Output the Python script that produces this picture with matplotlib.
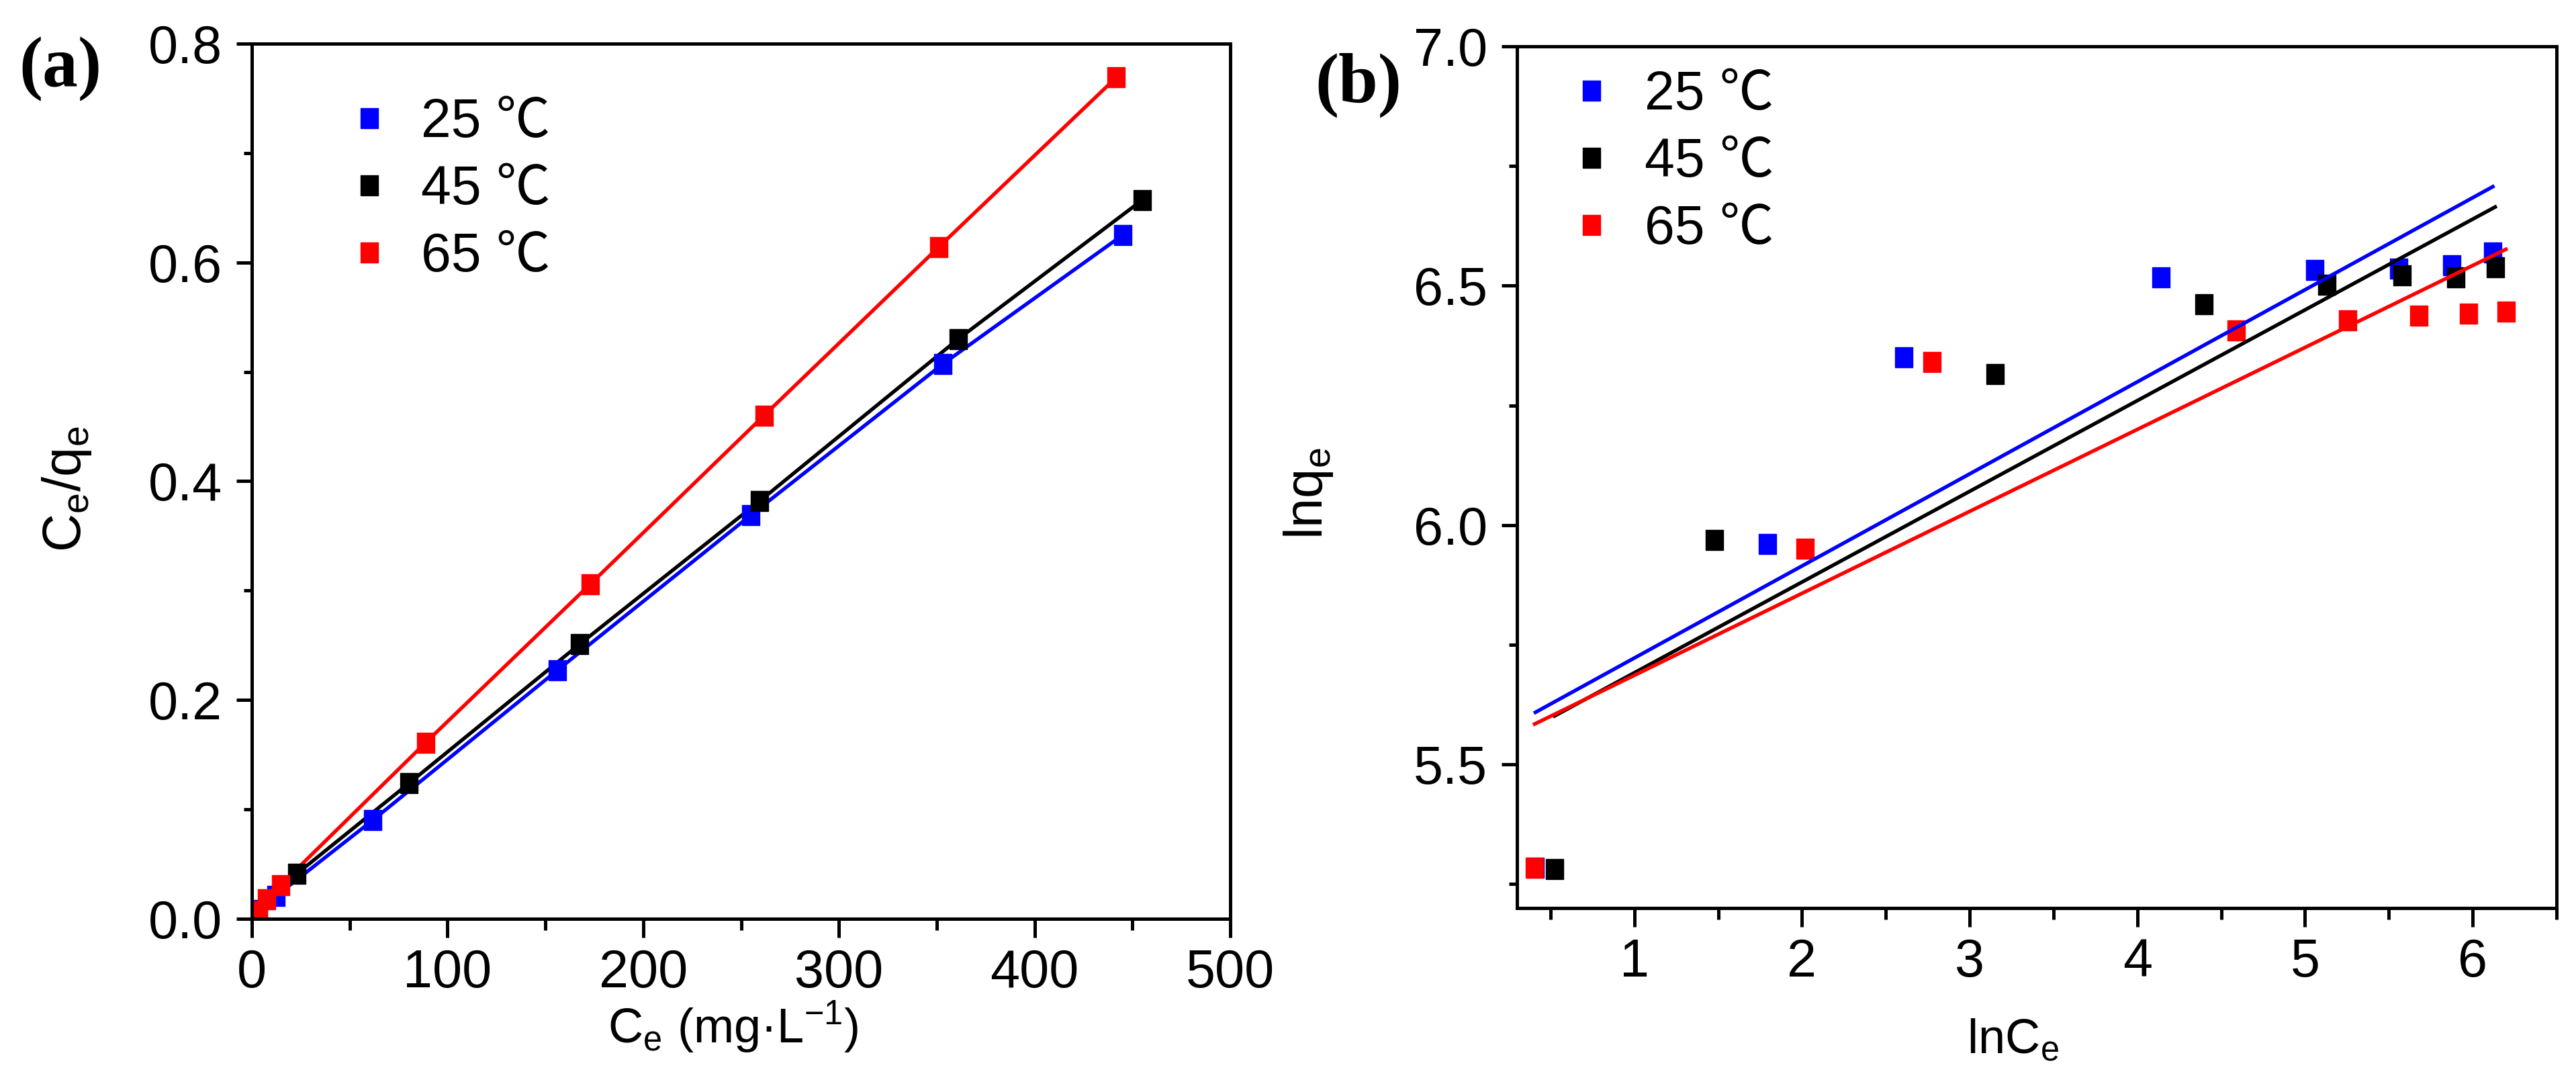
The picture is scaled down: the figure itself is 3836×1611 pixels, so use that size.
import numpy as np
import matplotlib.pyplot as plt
from matplotlib.ticker import MultipleLocator

plt.rcParams['font.family'] = ['Liberation Sans', 'Noto Sans CJK SC', 'DejaVu Sans']

# ---- panel (a): Langmuir, Ce vs Ce/qe ----
ce_25 = [3.3, 12.5, 61.7, 156, 255, 353, 445]
cq_25 = [0.008, 0.021, 0.090, 0.227, 0.369, 0.507, 0.625]
ce_45 = [3.0, 22.9, 80.4, 167.5, 259.6, 361, 455]
cq_45 = [0.006, 0.041, 0.124, 0.251, 0.382, 0.530, 0.657]
ce_65 = [3.4, 7.5, 14.8, 88.8, 173, 261.7, 351, 441.7]
cq_65 = [0.007, 0.018, 0.031, 0.161, 0.306, 0.460, 0.614, 0.769]

# ---- panel (b): Freundlich, lnCe vs lnqe ----
lnce_25 = [0.41, 1.794, 2.607, 4.14, 5.057, 5.56, 5.876, 6.12]
lnqe_25 = [5.284, 5.961, 6.351, 6.518, 6.533, 6.535, 6.543, 6.569]
lnce_45 = [0.524, 1.476, 3.153, 4.398, 5.132, 5.578, 5.90, 6.134]
lnqe_45 = [5.281, 5.969, 6.316, 6.461, 6.502, 6.521, 6.518, 6.538]
lnce_65 = [0.405, 2.017, 2.776, 4.591, 5.256, 5.678, 5.975, 6.198]
lnqe_65 = [5.284, 5.951, 6.341, 6.406, 6.427, 6.437, 6.442, 6.446]

# fitted lines (slope, intercept)
fit_slope = [0.1923, 0.1895, 0.1712]
fit_inter = [5.530, 5.502, 5.515]

labels = ['25 ℃', '45 ℃', '65 ℃']
colors = ['#0000ff', '#000000', '#ff0000']

# slightly tall square, the source picture is stretched vertically
sq = [(-0.44, -0.5), (0.44, -0.5), (0.44, 0.5), (-0.44, 0.5), (-0.44, -0.5)]

W, H = 3836, 1611
fig = plt.figure(figsize=(W/100, H/100), dpi=100)

def px_axes(l, t, r, b):
    return fig.add_axes([l/W, 1 - b/H, (r - l)/W, (b - t)/H])

fs = 57

def style(ax):
    for s in ax.spines.values():
        s.set_linewidth(3.6)
    ax.tick_params(which='both', direction='out', width=3.6, top=False, right=False,
                   labelsize=fs)
    ax.tick_params(axis='x', which='major', length=20.5, pad=11)
    ax.tick_params(axis='x', which='minor', length=12)
    ax.tick_params(axis='y', which='major', length=16.5, pad=15)
    ax.tick_params(axis='y', which='minor', length=8.6)

def labels_xy(ax, xt, xpos, yt, ypos):
    ax.set_xlabel(xt, fontsize=52)
    ax.xaxis.set_label_coords(*xpos)
    ax.xaxis.label.set_va('baseline')
    ax.set_ylabel(yt, fontsize=57)
    ax.yaxis.set_label_coords(*ypos)

def add_legend(ax, hs, x, y, pad):
    ax.legend(handles=hs, loc='center left', bbox_to_anchor=(x, y), frameon=False,
              fontsize=58, handlelength=1.0, handletextpad=pad, labelspacing=0.3,
              borderaxespad=0, borderpad=0)

# ---------------- (a) ----------------
axa = px_axes(375, 65, 1832, 1368)
for x, y, c in zip([ce_25, ce_45, ce_65], [cq_25, cq_45, cq_65], colors):
    axa.plot(x, y, '-', color=c, lw=3.9)
hs = []
for x, y, c, lb in zip([ce_25, ce_45, ce_65], [cq_25, cq_45, cq_65], colors, labels):
    h, = axa.plot(x, y, marker=sq, color=c, ms=21, ls='none', label=lb)
    hs.append(h)
axa.set_xlim(0, 500)
axa.set_ylim(0, 0.8)
axa.xaxis.set_major_locator(MultipleLocator(100))
axa.xaxis.set_minor_locator(MultipleLocator(50))
axa.yaxis.set_major_locator(MultipleLocator(0.2))
axa.yaxis.set_minor_locator(MultipleLocator(0.1))
axa.yaxis.set_major_formatter(plt.FormatStrFormatter('%.1f'))
style(axa)
labels_xy(axa, r'C$_\mathregular{e}$ (mg·L$^\mathregular{-1}$)', (0.492, -0.142),
          r'C$_\mathregular{e}$/q$_\mathregular{e}$', (-0.162, 0.491))
add_legend(axa, hs, 0.0927, 0.8327, 0.45)

# ---------------- (b) ----------------
axb = px_axes(2259, 69, 3807, 1352)
xs = [lnce_25, lnce_45, lnce_65]
ys = [lnqe_25, lnqe_45, lnqe_65]
hs = []
for x, y, c, lb in zip(xs, ys, colors, labels):
    h, = axb.plot(x, y, marker=sq, color=c, ms=21, ls='none', label=lb)
    hs.append(h)
for x, c, k, b in zip(xs, colors, fit_slope, fit_inter):
    xx = np.array([min(x), max(x)])
    axb.plot(xx, k*xx + b, '-', color=c, lw=3.9)
axb.set_xlim(0.3, 6.5)
axb.set_ylim(5.2, 7.0)
axb.xaxis.set_major_locator(MultipleLocator(1))
axb.xaxis.set_minor_locator(MultipleLocator(0.5))
axb.yaxis.set_major_locator(MultipleLocator(0.5))
axb.yaxis.set_minor_locator(MultipleLocator(0.25))
axb.yaxis.set_major_formatter(plt.FormatStrFormatter('%.1f'))
style(axb)
labels_xy(axb, r'lnC$_\mathregular{e}$', (0.477, -0.168),
          r'lnq$_\mathregular{e}$', (-0.175, 0.481))
add_legend(axb, hs, 0.0459, 0.8652, 0.48)

fig.text(90/W, 1 - 103/H, '(a)', fontsize=76, fontweight='bold',
         family='Liberation Serif', ha='center', va='center')
fig.text(2023/W, 1 - 127/H, '(b)', fontsize=76, fontweight='bold',
         family='Liberation Serif', ha='center', va='center')

fig.savefig('out.png', dpi=100)
